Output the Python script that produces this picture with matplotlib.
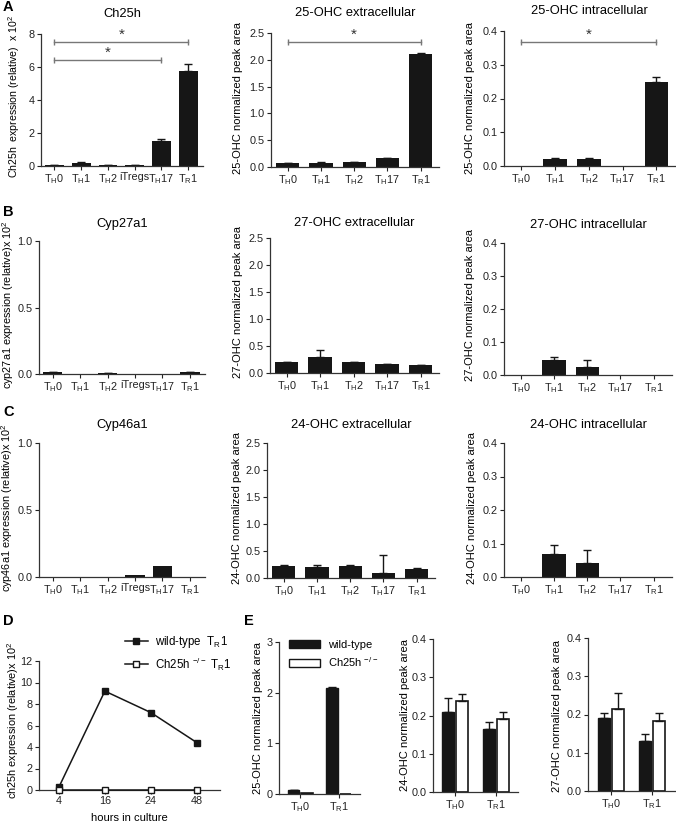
import numpy as np
import matplotlib
matplotlib.use("Agg")
import matplotlib.pyplot as plt
from matplotlib.patches import Patch

plt.rcParams['font.family'] = ['Liberation Sans', 'DejaVu Sans']
plt.rcParams['mathtext.fontset'] = 'custom'
plt.rcParams['mathtext.rm'] = 'Liberation Sans'
plt.rcParams['font.size'] = 7.8
plt.rcParams['axes.linewidth'] = 0.9
plt.rcParams['axes.edgecolor'] = '#333333'

W, H = 676, 824


def sub(a, b, rest=""):
    return a + r"$_\mathregular{" + b + "}$" + rest


# categories
cells6 = [sub("T", "H", "0"), sub("T", "H", "1"), sub("T", "H", "2"), "iTregs", sub("T", "H", "17"), sub("T", "R", "1")]
cells5 = [sub("T", "H", "0"), sub("T", "H", "1"), sub("T", "H", "2"), sub("T", "H", "17"), sub("T", "R", "1")]

# panel A
ch25h = [0.05, 0.18, 0.05, 0.08, 1.5, 5.75]
ch25h_err = [0.01, 0.05, 0.01, 0.01, 0.12, 0.42]
ohc25_ext = [0.07, 0.08, 0.09, 0.16, 2.1]
ohc25_ext_err = [0.005, 0.005, 0.005, 0.01, 0.02]
ohc25_int = [0.0, 0.021, 0.022, 0.0, 0.25]
ohc25_int_err = [0.0, 0.003, 0.003, 0.0, 0.014]

# panel B
cyp27a1 = [0.012, 0.0, 0.008, 0.0, 0.0, 0.015]
cyp27a1_err = [0.002, 0.0, 0.002, 0.0, 0.0, 0.002]
ohc27_ext = [0.2, 0.3, 0.2, 0.16, 0.14]
ohc27_ext_err = [0.01, 0.12, 0.01, 0.01, 0.01]
ohc27_int = [0.0, 0.045, 0.023, 0.0, 0.0]
ohc27_int_err = [0.0, 0.01, 0.022, 0.0, 0.0]

# panel C
cyp46a1 = [0.0, 0.0, 0.0, 0.015, 0.08, 0.0]
cyp46a1_err = [0.0, 0.0, 0.0, 0.0, 0.0, 0.0]
ohc24_ext = [0.22, 0.21, 0.23, 0.1, 0.17]
ohc24_ext_err = [0.03, 0.03, 0.01, 0.33, 0.01]
ohc24_int = [0.0, 0.07, 0.043, 0.0, 0.0]
ohc24_int_err = [0.0, 0.025, 0.038, 0.0, 0.0]

# panel D
hours = ["4", "16", "24", "48"]
wt_time = [0.25, 9.2, 7.2, 4.4]
ko_time = [0.0, 0.0, 0.0, 0.0]

# panel E
groups = [sub("T", "H", "0"), sub("T", "R", "1")]
e25_wt = [0.07, 2.1]
e25_wt_err = [0.005, 0.02]
e25_ko = [0.01, 0.0]
e25_ko_err = [0.0, 0.0]
e24_wt = [0.21, 0.165]
e24_wt_err = [0.036, 0.017]
e24_ko = [0.237, 0.19]
e24_ko_err = [0.018, 0.02]
e27_wt = [0.19, 0.132]
e27_wt_err = [0.015, 0.018]
e27_ko = [0.215, 0.183]
e27_ko_err = [0.04, 0.02]

BAR = '#161616'
fig = plt.figure(figsize=(W / 100, H / 100), dpi=100)


def add(l, t, r, b):
    ax = fig.add_axes([l / W, 1 - b / H, (r - l) / W, (b - t) / H])
    ax.spines['top'].set_visible(False)
    ax.spines['right'].set_visible(False)
    ax.tick_params(direction='out', length=3, width=0.8, pad=1.5, colors='#222222')
    return ax


def ylab(text, px, py, size=8):
    # y label placed by its centre, in pixels from the top-left corner
    fig.text(px / W, 1 - py / H, text, rotation=90, ha='center', va='center', fontsize=size)


def err_up(ax, x, vals, errs, color=BAR):
    # only draw error bars where there is something to show
    x = np.asarray(x, dtype=float)
    vals = np.asarray(vals, dtype=float)
    errs = np.asarray(errs, dtype=float)
    keep = errs > 0
    if keep.any():
        ax.errorbar(x[keep], vals[keep], yerr=[np.zeros(keep.sum()), errs[keep]], fmt='none',
                    ecolor=color, elinewidth=1, capsize=3, capthick=1)


def bars(ax, labels, vals, errs, ymax, yticks, title, pad):
    x = np.arange(len(labels))
    ax.bar(x, vals, width=0.7, color=BAR)
    err_up(ax, x, vals, errs)
    ax.set_xticks(x)
    ax.set_xticklabels(labels)
    ax.set_xlim(-0.5, len(labels) - 0.45)
    ax.set_ylim(0, ymax)
    ax.set_yticks(yticks)
    ax.set_title(title, fontsize=9.3, pad=pad)


def sig(ax, x0, x1, y, ystar):
    ax.plot([x0, x1], [y, y], color='#777777', lw=1, clip_on=False)
    ax.plot([x0, x1], [y, y], ls='none', marker='|', ms=5, mew=1, color='#777777', clip_on=False)
    ax.text((x0 + x1) / 2, ystar, "*", ha='center', va='center', fontsize=11, color='#333333')


oh_ticks = [0.0, 0.5, 1.0, 1.5, 2.0, 2.5]
int_ticks = [0.0, 0.1, 0.2, 0.3, 0.4]

# A
ax = add(41, 34, 203, 166)
bars(ax, cells6, ch25h, ch25h_err, 8, [0, 2, 4, 6, 8], "Ch25h", 12)
sig(ax, 0, 5, 7.5, 7.95)
sig(ax, 0, 4, 6.4, 6.85)
ylab("Ch25h  expression (relative)  x 10$^2$", 14, 97, 7.6)
ax = add(271, 33, 439, 167)
bars(ax, cells5, ohc25_ext, ohc25_ext_err, 2.5, oh_ticks, "25-OHC extracellular", 12)
ax.set_yticklabels(["0.0", "0.5", "1.0", "1.5", "2.0", "2.5"])
sig(ax, 0, 4, 2.33, 2.47)
ylab("25-OHC normalized peak area", 238, 98)
ax = add(504, 31, 675, 166)
bars(ax, cells5, ohc25_int, ohc25_int_err, 0.4, int_ticks, "25-OHC intracellular", 12)
sig(ax, 0, 4, 0.367, 0.39)
ylab("25-OHC normalized peak area", 470, 98)

# B
ax = add(39, 241, 205, 374)
bars(ax, cells6, cyp27a1, cyp27a1_err, 1.0, [0.0, 0.5, 1.0], "Cyp27a1", 10)
ylab("cyp27a1 expression (relative)x 10$^2$", 8, 305, 7.8)
ax = add(270, 238, 439, 373)
bars(ax, cells5, ohc27_ext, ohc27_ext_err, 2.5, oh_ticks, "27-OHC extracellular", 9)
ylab("27-OHC normalized peak area", 238, 302)
ax = add(504, 243, 672, 375)
bars(ax, cells5, ohc27_int, ohc27_int_err, 0.4, int_ticks, "27-OHC intracellular", 11)
ylab("27-OHC normalized peak area", 470, 305)

# C
ax = add(39, 443, 205, 577)
bars(ax, cells6, cyp46a1, cyp46a1_err, 1.0, [0.0, 0.5, 1.0], "Cyp46a1", 11)
ylab("cyp46a1 expression (relative)x 10$^2$", 7, 508, 7.8)
ax = add(267, 443, 435, 578)
bars(ax, cells5, ohc24_ext, ohc24_ext_err, 2.5, oh_ticks, "24-OHC extracellular", 11)
ylab("24-OHC normalized peak area", 237, 508)
ax = add(504, 443, 672, 577)
bars(ax, cells5, ohc24_int, ohc24_int_err, 0.4, int_ticks, "24-OHC intracellular", 11)
ylab("24-OHC normalized peak area", 472, 508)

# D
ax = add(39, 661, 220, 790)
xd = np.arange(len(hours))
ax.plot(xd, wt_time, color=BAR, lw=1.1, marker='s', ms=5, mfc=BAR, mec=BAR,
        label="wild-type  " + sub("T", "R", "1"))
ax.plot(xd, ko_time, color=BAR, lw=1.1, marker='s', ms=5, mfc='white', mec=BAR,
        label="Ch25h $^{-/-}$ " + sub("T", "R", "1"), clip_on=False, zorder=3)
ax.set_xticks(xd)
ax.set_xticklabels(hours)
ax.set_xlim(-0.43, 3.5)
ax.set_ylim(0, 12)
ax.set_yticks(range(0, 13, 2))
ylab("ch25h expression (relative)x 10$^2$", 13, 720, 7.8)
fig.text(129 / W, 1 - 818 / H, "hours in culture", ha='center', va='center', fontsize=8)
ax.legend(loc='lower right', bbox_to_anchor=(1.12, 0.83), frameon=False,
          handlelength=2.0, handletextpad=0.6, labelspacing=0.45, fontsize=8.3)


def grouped(ax, wt, wt_err, ko, ko_err, ymax, yticks):
    x = np.arange(len(groups))
    w = 0.3
    xw = x - w / 2 - 0.02
    xk = x + w / 2 + 0.02
    ax.bar(xw, wt, width=w, color=BAR, edgecolor=BAR, lw=1)
    ax.bar(xk, ko, width=w, color='white', edgecolor=BAR, lw=1.2)
    err_up(ax, xw, wt, wt_err)
    err_up(ax, xk, ko, ko_err)
    ax.set_xticks(x)
    ax.set_xticklabels(groups)
    ax.set_xlim(-0.55, 1.55)
    ax.set_ylim(0, ymax)
    ax.set_yticks(yticks)


# E
ax = add(279, 642, 360, 794)
grouped(ax, e25_wt, e25_wt_err, e25_ko, e25_ko_err, 3, [0, 1, 2, 3])
ylab("25-OHC normalized peak area", 258, 718)
ax.legend(handles=[Patch(facecolor=BAR, edgecolor=BAR), Patch(facecolor='white', edgecolor=BAR)],
          labels=["wild-type", "Ch25h $^{-/-}$"], loc='upper left', bbox_to_anchor=(0.0, 1.08),
          frameon=False, handlelength=2.8, handleheight=0.7, handletextpad=0.7, labelspacing=0.45,
          fontsize=8)
ax = add(433, 639, 518, 792)
grouped(ax, e24_wt, e24_wt_err, e24_ko, e24_ko_err, 0.4, int_ticks)
ylab("24-OHC normalized peak area", 405, 715)
ax = add(588, 638, 675, 791)
grouped(ax, e27_wt, e27_wt_err, e27_ko, e27_ko_err, 0.4, int_ticks)
ylab("27-OHC normalized peak area", 557, 716)

# panel letters
for letter, (px, py) in {"A": (3, 7), "B": (3, 212), "C": (3, 412), "D": (3, 621), "E": (244, 621)}.items():
    fig.text(px / W, 1 - py / H, letter, fontsize=10.5, fontweight='bold', va='center', ha='left')

fig.savefig("out.png", dpi=100)
